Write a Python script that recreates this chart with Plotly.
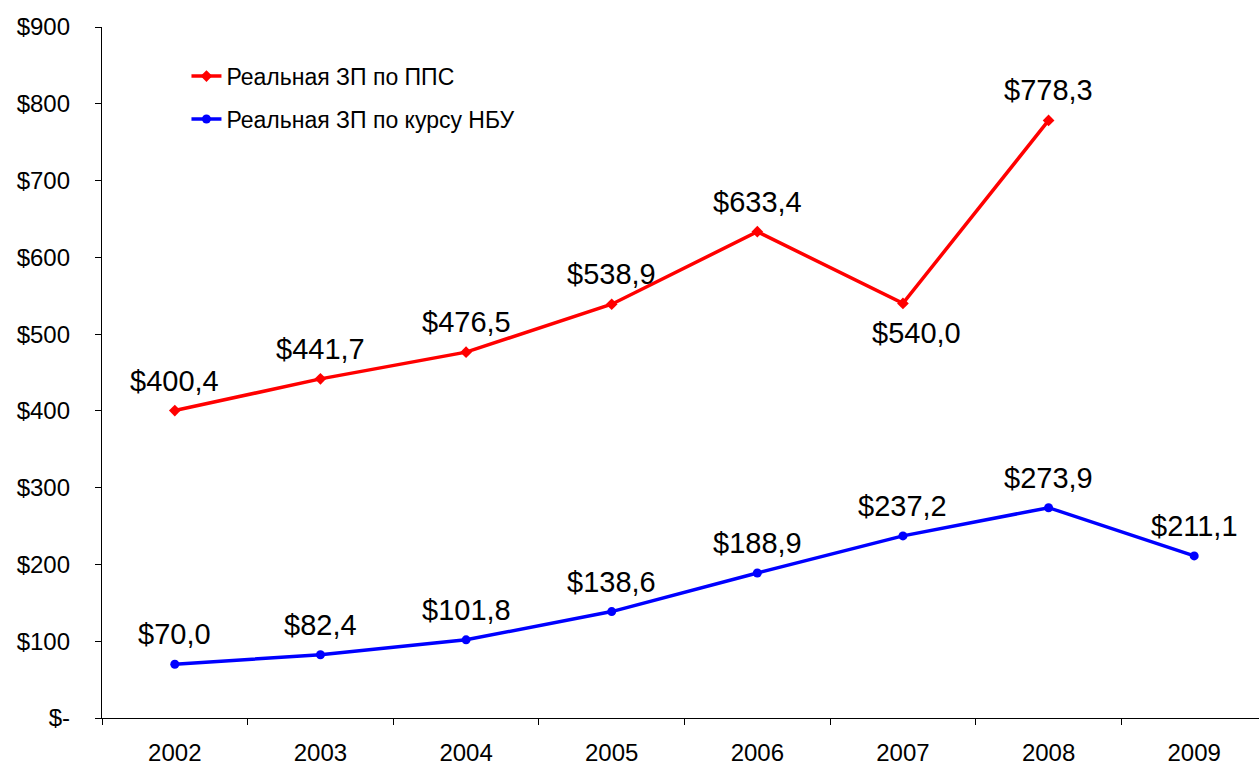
import plotly.graph_objects as go

years = ["2002", "2003", "2004", "2005", "2006", "2007", "2008", "2009"]
ppp_values = [400.4, 441.7, 476.5, 538.9, 633.4, 540.0, 778.3, None]
nbu_values = [70.0, 82.4, 101.8, 138.6, 188.9, 237.2, 273.9, 211.1]
ppp_label_side = ["above", "above", "above", "above", "above", "below", "above", None]
nbu_label_side = ["above"] * 8
y_ticks = [0, 100, 200, 300, 400, 500, 600, 700, 800, 900]
y_tick_labels = ["$-", "$100", "$200", "$300", "$400", "$500", "$600", "$700", "$800", "$900"]

name_ppp = "Реальная ЗП по ППС"
name_nbu = "Реальная ЗП по курсу НБУ"

FONT = "Liberation Sans, Arial, sans-serif"


def fmt(v):
    return ("$%.1f" % v).replace(".", ",")


fig = go.Figure()
fig.add_trace(go.Scatter(
    x=years, y=ppp_values, name=name_ppp, mode="lines+markers",
    legendgroup="ppp",
    line=dict(color="#FF0000", width=3.5),
    marker=dict(symbol="diamond", size=9, color="#FF0000"),
))
fig.add_trace(go.Scatter(
    x=years, y=nbu_values, name=name_nbu, mode="lines+markers",
    legendgroup="nbu",
    line=dict(color="#0000FF", width=3.5),
    marker=dict(symbol="circle", size=9, color="#0000FF"),
))

annotations = []
for vals, sides in ((ppp_values, ppp_label_side), (nbu_values, nbu_label_side)):
    for i, (v, side) in enumerate(zip(vals, sides)):
        if v is None:
            continue
        annotations.append(dict(
            x=i, y=v, xref="x", yref="y", text=fmt(v), showarrow=False,
            yshift=30 if side == "above" else -30,
            xshift=14 if side == "below" else 0,
            font=dict(family=FONT, size=29, color="black"),
        ))

fig.update_layout(
    width=1259, height=771,
    margin=dict(l=102, r=0, t=27, b=53),
    paper_bgcolor="white", plot_bgcolor="white",
    font=dict(family=FONT, color="black"),
    showlegend=True,
    legend=dict(
        x=0.073, y=0.96, xanchor="left", yanchor="top",
        font=dict(family=FONT, size=23, color="black"),
        bgcolor="rgba(0,0,0,0)", itemwidth=30, tracegroupgap=10,
        traceorder="grouped",
    ),
    annotations=annotations,
)
fig.update_xaxes(
    type="category", range=[-0.5, 7.445],
    showline=True, linecolor="black", linewidth=1.3,
    ticks="outside", ticklen=6, tickcolor="black", tickson="boundaries",
    ticklabelstandoff=13,
    tickfont=dict(family=FONT, size=24, color="black"),
    showgrid=False, zeroline=False,
)
fig.update_yaxes(
    range=[0, 900], tickvals=y_ticks, ticktext=y_tick_labels,
    showline=True, linecolor="black", linewidth=1.3,
    ticks="outside", ticklen=6, tickcolor="black",
    ticklabelstandoff=20,
    tickfont=dict(family=FONT, size=24, color="black"),
    showgrid=False, zeroline=False,
)

fig.write_html(
    "out.html",
    config={"displayModeBar": False},
    post_script="document.body.style.margin='0';document.body.style.overflow='hidden';",
)
